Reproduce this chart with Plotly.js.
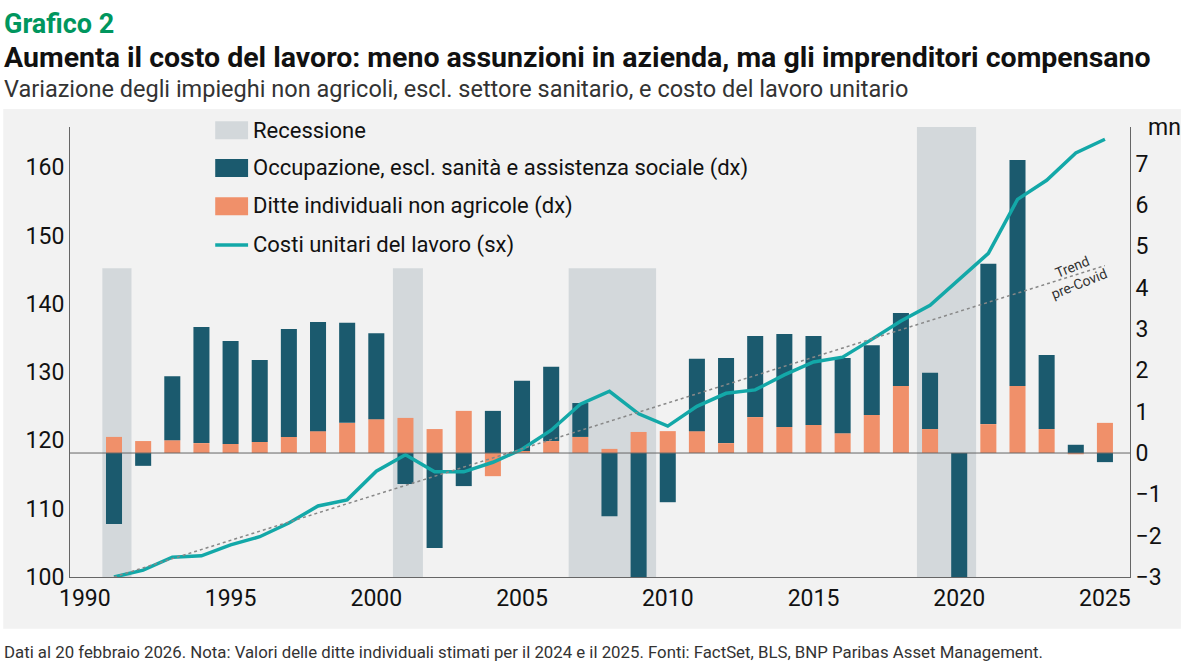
<!DOCTYPE html>
<html><head><meta charset="utf-8">
<script src="https://cdn.plot.ly/plotly-3.0.1.min.js"></script>
<style>body{margin:0;background:#fff}#chart{width:1184px;height:663px}</style>
</head><body><div id="chart"></div>
<script>
// Data
const years = [1991,1992,1993,1994,1995,1996,1997,1998,1999,2000,2001,2002,2003,2004,2005,2006,2007,2008,
  2009,2010,2011,2012,2013,2014,2015,2016,2017,2018,2019,2020,2021,2022,2023,2024,2025];
const ditte = [0.39,0.29,0.31,0.24,0.22,0.27,0.39,0.53,0.73,0.82,0.85,0.58,1.02,-0.56,0.05,0.29,0.39,0.1,
  0.51,0.53,0.53,0.24,0.87,0.63,0.68,0.48,0.92,1.62,0.58,0,0.7,1.62,0.58,-0.03,0.73];
const occupazione = [-1.72,-0.31,1.55,2.81,2.49,1.98,2.61,2.64,2.42,2.08,-0.75,-2.3,-0.8,1.02,1.7,1.8,0.82,-1.53,
  -4.9,-1.19,1.75,2.06,1.96,2.25,2.15,1.82,1.69,1.77,1.36,-9.3,3.88,5.47,1.79,0.2,-0.22];
const costi = [100,101,102.9,103.1,104.7,105.9,107.9,110.4,111.3,115.5,117.9,115.4,115.4,116.8,118.7,121.5,
  125.3,127.2,123.9,122.1,125.0,126.9,127.4,129.6,131.5,132.2,134.8,137.5,139.8,143.6,147.4,155.3,158.1,162.1,164.1];
const trendX = [1991, 2025];
const trendY = [100, 145.6];
const recessioni = [[1990.6,1991.6,145.2],[2000.57,2001.6,145.2],[2006.6,2009.6,145.2],[2018.55,2020.58,166]];
const legendLabels = ['Recessione', 'Occupazione, escl. sanità e assistenza sociale (dx)',
  'Ditte individuali non agricole (dx)', 'Costi unitari del lavoro (sx)'];

const C_DARK = '#1b5a6e', C_ORANGE = '#f0906a', C_LINE = '#13a8a8', C_REC = '#d3d8db';
const FONT = 'Roboto, "Open Sans", sans-serif';

const traces = [
  { type: 'bar', x: years, y: ditte, marker: { color: C_ORANGE }, yaxis: 'y2', width: 0.55 },
  { type: 'bar', x: years, y: occupazione, marker: { color: C_DARK }, yaxis: 'y2', width: 0.55 },
  { type: 'scatter', mode: 'lines', x: years, y: costi, line: { color: C_LINE, width: 3.5 } },
  { type: 'scatter', mode: 'lines', x: trendX, y: trendY, line: { color: '#888', width: 1.5, dash: 'dot' } }
];
const shapes = [
  { type: 'rect', xref: 'paper', yref: 'paper', x0: -0.063, x1: 1.048, y0: -0.115, y1: 1.04,
    fillcolor: '#f2f2f2', line: { width: 0 }, layer: 'below' }
];
recessioni.forEach(r => shapes.push({ type: 'rect', xref: 'x', yref: 'y', x0: r[0], x1: r[1], y0: 100, y1: r[2],
  fillcolor: C_REC, line: { width: 0 }, layer: 'below' }));
shapes.push({ type: 'line', xref: 'paper', yref: 'y2', x0: 0, x1: 1, y0: 0, y1: 0, line: { color: '#666', width: 1 } });

// manual legend
const legY = [0.993, 0.909, 0.824, 0.738];
const legCol = [C_REC, C_DARK, C_ORANGE, C_LINE];
const annotations = [];
legendLabels.forEach((t, i) => {
  if (i < 3) shapes.push({ type: 'rect', xref: 'paper', yref: 'paper', x0: 0.137, x1: 0.168,
    y0: legY[i] - 0.02, y1: legY[i] + 0.02, fillcolor: legCol[i], line: { width: 0 } });
  else shapes.push({ type: 'line', xref: 'paper', yref: 'paper', x0: 0.137, x1: 0.168,
    y0: legY[i], y1: legY[i], line: { color: legCol[i], width: 3.5 } });
  annotations.push({ xref: 'paper', yref: 'paper', x: 0.171, y: legY[i], xanchor: 'left', yanchor: 'middle',
    showarrow: false, text: t, font: { size: 22, color: '#111' } });
});

annotations.push(
  { xref: 'paper', yref: 'paper', x: -0.064, y: 1.228, xanchor: 'left', yanchor: 'middle', showarrow: false,
    text: '<b>Grafico 2</b>', font: { size: 27, color: '#00965e' } },
  { xref: 'paper', yref: 'paper', x: -0.064, y: 1.155, xanchor: 'left', yanchor: 'middle', showarrow: false,
    text: '<b>Aumenta il costo del lavoro: meno assunzioni in azienda, ma gli imprenditori compensano</b>',
    font: { size: 28.5, color: '#111' } },
  { xref: 'paper', yref: 'paper', x: -0.064, y: 1.085, xanchor: 'left', yanchor: 'middle', showarrow: false,
    text: 'Variazione degli impieghi non agricoli, escl. settore sanitario, e costo del lavoro unitario',
    font: { size: 23.5, color: '#333' } },
  { xref: 'paper', yref: 'paper', x: -0.064, y: -0.167, xanchor: 'left', yanchor: 'middle', showarrow: false,
    text: 'Dati al 20 febbraio 2026. Nota: Valori delle ditte individuali stimati per il 2024 e il 2025. Fonti: FactSet, BLS, BNP Paribas Asset Management.',
    font: { size: 16.8, color: '#333' } },
  { xref: 'paper', yref: 'paper', x: 1.015, y: 1.0, xanchor: 'left', yanchor: 'middle', showarrow: false,
    text: 'mn', font: { size: 23, color: '#111' } },
  { xref: 'x', yref: 'y', x: 2024.0, y: 144.3, showarrow: false, textangle: -22,
    text: 'Trend<br>pre-Covid', font: { size: 14, color: '#333' } }
);

const layout = {
  width: 1184, height: 663,
  margin: { l: 70, r: 54, t: 127, b: 86 },
  paper_bgcolor: '#fff', plot_bgcolor: 'rgba(0,0,0,0)',
  font: { family: FONT, color: '#111' },
  barmode: 'relative', showlegend: false,
  xaxis: { range: [1989.49, 2025.86], tickvals: [1990,1995,2000,2005,2010,2015,2020,2025],
    tickfont: { size: 23 }, showgrid: false, zeroline: false, showline: true, linecolor: '#666', ticks: '' },
  yaxis: { range: [100, 165.9], tickvals: [100,110,120,130,140,150,160], tickfont: { size: 23 },
    showgrid: false, zeroline: false, showline: true, linecolor: '#666', overlaying: 'y2' },
  yaxis2: { range: [-3, 7.89], side: 'right', tickvals: [-3,-2,-1,0,1,2,3,4,5,6,7], tickfont: { size: 23 },
    showgrid: false, zeroline: false, showline: true, linecolor: '#666' },
  shapes: shapes,
  annotations: annotations
};
Plotly.newPlot('chart', traces, layout, { displayModeBar: false, staticPlot: true });
</script></body></html>
